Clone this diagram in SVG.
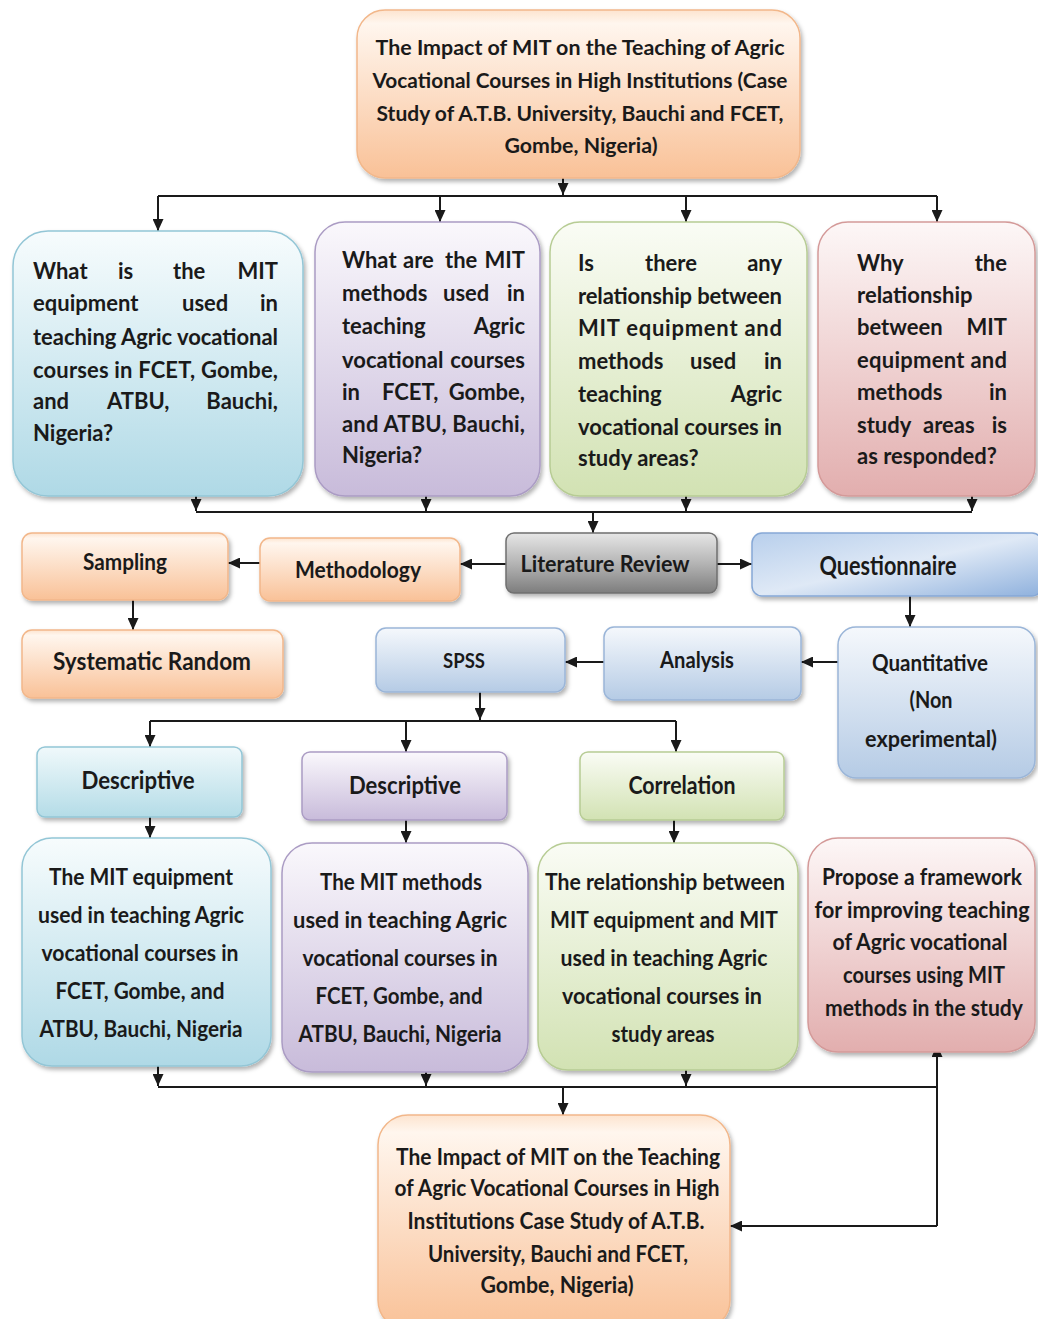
<svg xmlns="http://www.w3.org/2000/svg" width="1038" height="1319" viewBox="0 0 1038 1319">
<style>
text{font-family:Lato,"Open Sans","Liberation Sans",sans-serif;font-weight:bold;fill:#1a1a1a}
.q{font-size:22px}
.c{text-anchor:middle}
.e{text-anchor:end}
.r5{font-size:22px;text-anchor:middle}
.lb{font-size:23px;text-anchor:middle}
.box{filter:url(#sh);stroke-width:1.5}
.orange{fill:url(#gO);stroke:#f2b78a}
.blue{fill:url(#gB);stroke:#93c6d6}
.purple{fill:url(#gP);stroke:#ab9cc4}
.green{fill:url(#gG);stroke:#b7cc94}
.red{fill:url(#gR);stroke:#d49a99}
.grey{fill:url(#gK);stroke:#6f6f6f}
.steel{fill:url(#gS);stroke:#9ab5d8}
.quest{fill:url(#gQ);stroke:#86a8d6}
.cyan{fill:url(#gC);stroke:#93c6d6}
#connectors path{fill:none;stroke:#1a1a1a;stroke-width:2}
#connectors .a{marker-end:url(#ah)}
</style>
<defs>
<filter id="sh" x="-10%" y="-10%" width="125%" height="125%"><feDropShadow dx="2" dy="3" stdDeviation="2" flood-color="#000" flood-opacity="0.3"/></filter>
<linearGradient id="gO" x1="0" y1="0" x2="0" y2="1"><stop offset="0" stop-color="#fde4cf"/><stop offset="0.08" stop-color="#fff6ee"/><stop offset="1" stop-color="#f9c197"/></linearGradient>
<linearGradient id="gB" x1="0" y1="0" x2="0" y2="1"><stop offset="0" stop-color="#f7fcfd"/><stop offset="1" stop-color="#afd9e6"/></linearGradient>
<linearGradient id="gC" x1="0" y1="0" x2="0" y2="1"><stop offset="0" stop-color="#f0f9fb"/><stop offset="1" stop-color="#b4dce7"/></linearGradient>
<linearGradient id="gP" x1="0" y1="0" x2="0" y2="1"><stop offset="0" stop-color="#faf8fc"/><stop offset="1" stop-color="#c8bbda"/></linearGradient>
<linearGradient id="gG" x1="0" y1="0" x2="0" y2="1"><stop offset="0" stop-color="#fafcf5"/><stop offset="1" stop-color="#d2e2b3"/></linearGradient>
<linearGradient id="gR" x1="0" y1="0" x2="0" y2="1"><stop offset="0" stop-color="#fdf7f7"/><stop offset="1" stop-color="#e2aeae"/></linearGradient>
<linearGradient id="gK" x1="0" y1="0" x2="0" y2="1"><stop offset="0" stop-color="#e6e6e6"/><stop offset="0.5" stop-color="#b5b5b5"/><stop offset="1" stop-color="#7d7d7d"/></linearGradient>
<linearGradient id="gS" x1="0" y1="0" x2="0" y2="1"><stop offset="0" stop-color="#f5f8fc"/><stop offset="1" stop-color="#b5cbe5"/></linearGradient>
<linearGradient id="gQ" x1="0" y1="0" x2="1" y2="1"><stop offset="0" stop-color="#b8cfec"/><stop offset="0.5" stop-color="#dfe9f6"/><stop offset="1" stop-color="#8fb1dd"/></linearGradient>
<marker id="ah" markerUnits="userSpaceOnUse" markerWidth="12" markerHeight="11" viewBox="0 0 12 11" refX="12" refY="5.5" orient="auto"><path d="M0,0 L12,5.5 L0,11 z" fill="#1a1a1a"/></marker>
</defs>

<g id="connectors">
<path class="a" d="M563,176 V195"/>
<path d="M158,196 H937"/>
<path class="a" d="M158,196 V231"/>
<path class="a" d="M440,196 V222"/>
<path class="a" d="M686,196 V222"/>
<path class="a" d="M937,196 V222"/>
<path class="a" d="M196,494 V511"/>
<path class="a" d="M426,494 V511"/>
<path class="a" d="M686,494 V511"/>
<path class="a" d="M972,494 V511"/>
<path d="M196,512 H972"/>
<path class="a" d="M593,512 V533"/>
<path class="a" d="M506,564 H460"/>
<path class="a" d="M717,564 H752"/>
<path class="a" d="M260,563 H228"/>
<path class="a" d="M133,600 V630"/>
<path class="a" d="M910,596 V627"/>
<path class="a" d="M838,662 H801"/>
<path class="a" d="M604,662 H565"/>
<path class="a" d="M480,692 V720"/>
<path d="M150,721 H676"/>
<path class="a" d="M150,721 V747"/>
<path class="a" d="M406,721 V752"/>
<path class="a" d="M676,721 V752"/>
<path class="a" d="M150,817 V838"/>
<path class="a" d="M406,820 V843"/>
<path class="a" d="M674,820 V843"/>
<path class="a" d="M158,1066 V1086"/>
<path class="a" d="M426,1072 V1086"/>
<path class="a" d="M686,1070 V1086"/>
<path d="M158,1087 H937"/>
<path class="a" d="M563,1087 V1115"/>
<path class="a" d="M937,1226 V1045"/>
<path class="a" d="M937,1226 H730"/>
</g>

<g id="n-title">
<rect class="box orange" x="357" y="10" width="443" height="168" rx="28"/>
<text class="c" style="font-size:21px" x="580" y="55" textLength="409" lengthAdjust="spacingAndGlyphs">The Impact of MIT on the Teaching of Agric</text>
<text class="c" style="font-size:21px" x="580" y="88" textLength="415" lengthAdjust="spacingAndGlyphs">Vocational Courses in High Institutions (Case</text>
<text class="c" style="font-size:21px" x="580" y="121" textLength="407" lengthAdjust="spacingAndGlyphs">Study of A.T.B. University, Bauchi and FCET,</text>
<text class="c" style="font-size:21px" x="581" y="153" textLength="153" lengthAdjust="spacingAndGlyphs">Gombe, Nigeria)</text>
</g>

<g id="n-q1">
<rect class="box blue" x="13" y="231" width="290" height="265" rx="35"/>
<text class="q" y="279"><tspan x="33">What</tspan><tspan x="118">is</tspan><tspan x="173">the</tspan><tspan x="278" class="e">MIT</tspan></text>
<text class="q" y="311"><tspan x="33">equipment</tspan><tspan x="182">used</tspan><tspan x="278" class="e">in</tspan></text>
<text class="q" x="33" y="345" textLength="245" lengthAdjust="spacing">teaching Agric vocational</text>
<text class="q" x="33" y="378" textLength="245" lengthAdjust="spacing">courses in FCET, Gombe,</text>
<text class="q" y="409"><tspan x="33">and</tspan><tspan x="107">ATBU,</tspan><tspan x="278" class="e">Bauchi,</tspan></text>
<text class="q" x="33" y="441">Nigeria?</text>
</g>

<g id="n-q2">
<rect class="box purple" x="315" y="222" width="225" height="274" rx="30"/>
<text class="q" y="268"><tspan x="342">What</tspan><tspan x="403">are</tspan><tspan x="445">the</tspan><tspan x="525" class="e">MIT</tspan></text>
<text class="q" y="301"><tspan x="342">methods</tspan><tspan x="443">used</tspan><tspan x="525" class="e">in</tspan></text>
<text class="q" y="334"><tspan x="342">teaching</tspan><tspan x="525" class="e">Agric</tspan></text>
<text class="q" y="368"><tspan x="342">vocational</tspan><tspan x="525" class="e">courses</tspan></text>
<text class="q" y="400"><tspan x="342">in</tspan><tspan x="382">FCET,</tspan><tspan x="525" class="e">Gombe,</tspan></text>
<text class="q" x="342" y="432" textLength="183" lengthAdjust="spacing">and ATBU, Bauchi,</text>
<text class="q" x="342" y="463">Nigeria?</text>
</g>

<g id="n-q3">
<rect class="box green" x="550" y="222" width="257" height="274" rx="30"/>
<text class="q" y="271"><tspan x="578">Is</tspan><tspan x="645">there</tspan><tspan x="782" class="e">any</tspan></text>
<text class="q" x="578" y="304" textLength="204" lengthAdjust="spacing">relationship between</text>
<text class="q" x="578" y="336" textLength="204" lengthAdjust="spacing">MIT equipment and</text>
<text class="q" y="369"><tspan x="578">methods</tspan><tspan x="690">used</tspan><tspan x="782" class="e">in</tspan></text>
<text class="q" y="402"><tspan x="578">teaching</tspan><tspan x="782" class="e">Agric</tspan></text>
<text class="q" x="578" y="435" textLength="204" lengthAdjust="spacing">vocational courses in</text>
<text class="q" x="578" y="466">study areas?</text>
</g>

<g id="n-q4">
<rect class="box red" x="818" y="222" width="217" height="274" rx="30"/>
<text class="q" y="271"><tspan x="857">Why</tspan><tspan x="1007" class="e">the</tspan></text>
<text class="q" x="857" y="303">relationship</text>
<text class="q" y="335"><tspan x="857">between</tspan><tspan x="1007" class="e">MIT</tspan></text>
<text class="q" x="857" y="368" textLength="150" lengthAdjust="spacing">equipment and</text>
<text class="q" y="400"><tspan x="857">methods</tspan><tspan x="1007" class="e">in</tspan></text>
<text class="q" y="433"><tspan x="857">study</tspan><tspan x="923">areas</tspan><tspan x="1007" class="e">is</tspan></text>
<text class="q" x="857" y="464">as responded?</text>
</g>

<g id="n-sampling">
<rect class="box orange" x="22" y="533" width="206" height="67" rx="10"/>
<text class="lb" x="125" y="570" textLength="84" lengthAdjust="spacingAndGlyphs">Sampling</text>
</g>
<g id="n-methodology">
<rect class="box orange" x="260" y="538" width="200" height="63" rx="10"/>
<text class="lb" x="358" y="578" textLength="126" lengthAdjust="spacingAndGlyphs">Methodology</text>
</g>
<g id="n-literature">
<rect class="box grey" x="506" y="533" width="211" height="60" rx="8"/>
<text class="lb" x="605" y="572" textLength="169" lengthAdjust="spacingAndGlyphs">Literature Review</text>
</g>
<g id="n-questionnaire">
<rect class="box quest" x="752" y="533" width="290" height="63" rx="10"/>
<text class="lb" style="font-size:26px" x="888" y="575" textLength="137" lengthAdjust="spacingAndGlyphs">Questionnaire</text>
</g>
<g id="n-systematic">
<rect class="box orange" x="22" y="630" width="261" height="68" rx="10"/>
<text class="lb" style="font-size:25px" x="152" y="670" textLength="198" lengthAdjust="spacingAndGlyphs">Systematic Random</text>
</g>
<g id="n-spss">
<rect class="box steel" x="376" y="628" width="189" height="64" rx="10"/>
<text class="lb" style="font-size:21px" x="464" y="668" textLength="42" lengthAdjust="spacingAndGlyphs">SPSS</text>
</g>
<g id="n-analysis">
<rect class="box steel" x="604" y="627" width="197" height="73" rx="10"/>
<text class="lb" x="697" y="668" textLength="74" lengthAdjust="spacingAndGlyphs">Analysis</text>
</g>
<g id="n-quant">
<rect class="box steel" x="838" y="627" width="197" height="151" rx="18"/>
<text class="lb" x="930" y="671" textLength="116" lengthAdjust="spacingAndGlyphs">Quantitative</text>
<text class="lb" x="931" y="708" textLength="43" lengthAdjust="spacingAndGlyphs">(Non</text>
<text class="lb" x="931" y="747" textLength="132" lengthAdjust="spacingAndGlyphs">experimental)</text>
</g>
<g id="n-desc1">
<rect class="box cyan" x="37" y="747" width="205" height="70" rx="8"/>
<text class="lb" style="font-size:25px" x="138" y="789" textLength="113" lengthAdjust="spacingAndGlyphs">Descriptive</text>
</g>
<g id="n-desc2">
<rect class="box purple" x="302" y="752" width="205" height="68" rx="8"/>
<text class="lb" style="font-size:25px" x="405" y="794" textLength="112" lengthAdjust="spacingAndGlyphs">Descriptive</text>
</g>
<g id="n-corr">
<rect class="box green" x="580" y="752" width="204" height="68" rx="8"/>
<text class="lb" style="font-size:25px" x="682" y="794" textLength="107" lengthAdjust="spacingAndGlyphs">Correlation</text>
</g>

<g id="n-r1">
<rect class="box blue" x="22" y="838" width="249" height="228" rx="30"/>
<text class="r5" x="141" y="885" textLength="184" lengthAdjust="spacingAndGlyphs">The MIT equipment</text>
<text class="r5" x="141" y="923" textLength="206" lengthAdjust="spacingAndGlyphs">used in teaching Agric</text>
<text class="r5" x="140" y="961" textLength="197" lengthAdjust="spacingAndGlyphs">vocational courses in</text>
<text class="r5" x="140" y="999" textLength="169" lengthAdjust="spacingAndGlyphs">FCET, Gombe, and</text>
<text class="r5" x="141" y="1037" textLength="203" lengthAdjust="spacingAndGlyphs">ATBU, Bauchi, Nigeria</text>
</g>
<g id="n-r2">
<rect class="box purple" x="282" y="843" width="246" height="229" rx="30"/>
<text class="r5" x="401" y="890" textLength="162" lengthAdjust="spacingAndGlyphs">The MIT methods</text>
<text class="r5" x="400" y="928" textLength="214" lengthAdjust="spacingAndGlyphs">used in teaching Agric</text>
<text class="r5" x="400" y="966" textLength="195" lengthAdjust="spacingAndGlyphs">vocational courses in</text>
<text class="r5" x="399" y="1004" textLength="167" lengthAdjust="spacingAndGlyphs">FCET, Gombe, and</text>
<text class="r5" x="400" y="1042" textLength="203" lengthAdjust="spacingAndGlyphs">ATBU, Bauchi, Nigeria</text>
</g>
<g id="n-r3">
<rect class="box green" x="538" y="843" width="260" height="227" rx="30"/>
<text class="r5" x="665" y="890" textLength="240" lengthAdjust="spacingAndGlyphs">The relationship between</text>
<text class="r5" x="664" y="928" textLength="228" lengthAdjust="spacingAndGlyphs">MIT equipment and MIT</text>
<text class="r5" x="664" y="966" textLength="207" lengthAdjust="spacingAndGlyphs">used in teaching Agric</text>
<text class="r5" x="662" y="1004" textLength="200" lengthAdjust="spacingAndGlyphs">vocational courses in</text>
<text class="r5" x="663" y="1042" textLength="103" lengthAdjust="spacingAndGlyphs">study areas</text>
</g>
<g id="n-r4">
<rect class="box red" x="808" y="838" width="227" height="214" rx="30"/>
<text class="r5" x="922" y="885" textLength="200" lengthAdjust="spacingAndGlyphs">Propose a framework</text>
<text class="r5" x="922" y="918" textLength="215" lengthAdjust="spacingAndGlyphs">for improving teaching</text>
<text class="r5" x="920" y="950" textLength="175" lengthAdjust="spacingAndGlyphs">of Agric vocational</text>
<text class="r5" x="924" y="983" textLength="162" lengthAdjust="spacingAndGlyphs">courses using MIT</text>
<text class="r5" x="924" y="1016" textLength="198" lengthAdjust="spacingAndGlyphs">methods in the study</text>
</g>

<g id="n-result">
<rect class="box orange" x="378" y="1115" width="352" height="215" rx="30"/>
<text class="r5" x="558" y="1165" textLength="324" lengthAdjust="spacingAndGlyphs">The Impact of MIT on the Teaching</text>
<text class="r5" x="557" y="1196" textLength="325" lengthAdjust="spacingAndGlyphs">of Agric Vocational Courses in High</text>
<text class="r5" x="556" y="1229" textLength="297" lengthAdjust="spacingAndGlyphs">Institutions Case Study of A.T.B.</text>
<text class="r5" x="558" y="1262" textLength="260" lengthAdjust="spacingAndGlyphs">University, Bauchi and FCET,</text>
<text class="r5" x="557" y="1293" textLength="153" lengthAdjust="spacingAndGlyphs">Gombe, Nigeria)</text>
</g>
</svg>
